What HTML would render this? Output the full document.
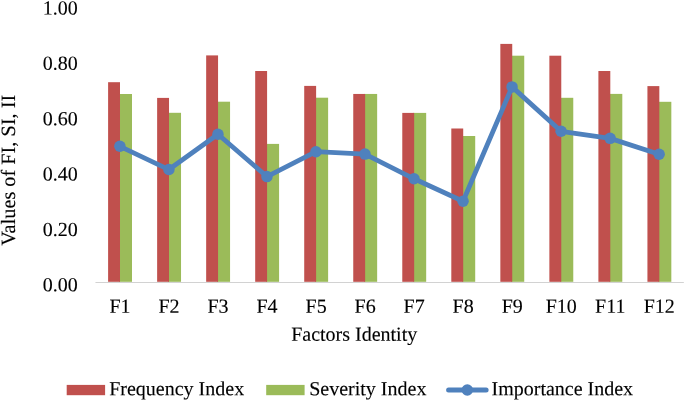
<!DOCTYPE html>
<html><head><meta charset="utf-8"><title>Chart</title>
<style>
html,body{margin:0;padding:0;background:#fff;}
svg{display:block;}
text{text-rendering:geometricPrecision;font-family:"Liberation Serif",serif;font-size:20px;fill:#000;stroke:#000;stroke-width:0.12px;}
</style></head>
<body>
<svg width="685" height="401" viewBox="0 0 685 401">
<rect x="0" y="0" width="685" height="401" fill="#fff"/>
<rect x="119.00" y="94.00" width="13.00" height="187.80" fill="#9BBB59"/>
<rect x="108.10" y="82.20" width="11.9" height="199.60" fill="#C0504D"/>
<rect x="168.03" y="112.80" width="13.00" height="169.00" fill="#9BBB59"/>
<rect x="157.13" y="97.90" width="11.9" height="183.90" fill="#C0504D"/>
<rect x="217.06" y="101.70" width="13.00" height="180.10" fill="#9BBB59"/>
<rect x="206.16" y="55.40" width="11.9" height="226.40" fill="#C0504D"/>
<rect x="266.09" y="143.90" width="13.00" height="137.90" fill="#9BBB59"/>
<rect x="255.19" y="71.00" width="11.9" height="210.80" fill="#C0504D"/>
<rect x="315.12" y="97.70" width="13.00" height="184.10" fill="#9BBB59"/>
<rect x="304.22" y="85.90" width="11.9" height="195.90" fill="#C0504D"/>
<rect x="364.15" y="93.95" width="13.00" height="187.85" fill="#9BBB59"/>
<rect x="353.25" y="93.95" width="11.9" height="187.85" fill="#C0504D"/>
<rect x="413.18" y="112.90" width="13.00" height="168.90" fill="#9BBB59"/>
<rect x="402.28" y="112.90" width="11.9" height="168.90" fill="#C0504D"/>
<rect x="462.21" y="136.00" width="13.00" height="145.80" fill="#9BBB59"/>
<rect x="451.31" y="128.50" width="11.9" height="153.30" fill="#C0504D"/>
<rect x="511.24" y="55.70" width="13.00" height="226.10" fill="#9BBB59"/>
<rect x="500.34" y="43.90" width="11.9" height="237.90" fill="#C0504D"/>
<rect x="560.27" y="97.80" width="13.00" height="184.00" fill="#9BBB59"/>
<rect x="549.37" y="55.70" width="11.9" height="226.10" fill="#C0504D"/>
<rect x="609.30" y="93.90" width="13.00" height="187.90" fill="#9BBB59"/>
<rect x="598.40" y="71.00" width="11.9" height="210.80" fill="#C0504D"/>
<rect x="658.33" y="101.80" width="13.00" height="180.00" fill="#9BBB59"/>
<rect x="647.43" y="86.10" width="11.9" height="195.70" fill="#C0504D"/>
<line x1="95.45" y1="282.45" x2="683.85" y2="282.45" stroke="#D2D2D2" stroke-width="1.1"/>
<polyline fill="none" stroke="#4F81BD" stroke-width="4.8" stroke-linejoin="round" stroke-linecap="round" points="119.90,146.30 168.92,169.55 217.94,134.20 266.96,176.60 315.98,151.70 365.00,154.10 414.02,178.80 463.04,201.20 512.06,86.90 561.08,131.30 610.10,138.35 659.12,154.30"/>
<circle cx="119.90" cy="146.30" r="5.75" fill="#4F81BD"/>
<circle cx="168.92" cy="169.55" r="5.75" fill="#4F81BD"/>
<circle cx="217.94" cy="134.20" r="5.75" fill="#4F81BD"/>
<circle cx="266.96" cy="176.60" r="5.75" fill="#4F81BD"/>
<circle cx="315.98" cy="151.70" r="5.75" fill="#4F81BD"/>
<circle cx="365.00" cy="154.10" r="5.75" fill="#4F81BD"/>
<circle cx="414.02" cy="178.80" r="5.75" fill="#4F81BD"/>
<circle cx="463.04" cy="201.20" r="5.75" fill="#4F81BD"/>
<circle cx="512.06" cy="86.90" r="5.75" fill="#4F81BD"/>
<circle cx="561.08" cy="131.30" r="5.75" fill="#4F81BD"/>
<circle cx="610.10" cy="138.35" r="5.75" fill="#4F81BD"/>
<circle cx="659.12" cy="154.30" r="5.75" fill="#4F81BD"/>
<text x="77.7" y="14.45" text-anchor="end" transform="rotate(0.03 77.7 14.45)">1.00</text>
<text x="77.7" y="69.83" text-anchor="end" transform="rotate(0.03 77.7 69.83)">0.80</text>
<text x="77.7" y="125.21" text-anchor="end" transform="rotate(0.03 77.7 125.21)">0.60</text>
<text x="77.7" y="180.59" text-anchor="end" transform="rotate(0.03 77.7 180.59)">0.40</text>
<text x="77.7" y="235.97" text-anchor="end" transform="rotate(0.03 77.7 235.97)">0.20</text>
<text x="77.7" y="291.35" text-anchor="end" transform="rotate(0.03 77.7 291.35)">0.00</text>
<text x="119.97" y="312.75" text-anchor="middle" transform="rotate(0.03 119.97 312.75)">F1</text>
<text x="169.00" y="312.75" text-anchor="middle" transform="rotate(0.03 169.00 312.75)">F2</text>
<text x="218.03" y="312.75" text-anchor="middle" transform="rotate(0.03 218.03 312.75)">F3</text>
<text x="267.06" y="312.75" text-anchor="middle" transform="rotate(0.03 267.06 312.75)">F4</text>
<text x="316.08" y="312.75" text-anchor="middle" transform="rotate(0.03 316.08 312.75)">F5</text>
<text x="365.12" y="312.75" text-anchor="middle" transform="rotate(0.03 365.12 312.75)">F6</text>
<text x="414.14" y="312.75" text-anchor="middle" transform="rotate(0.03 414.14 312.75)">F7</text>
<text x="463.18" y="312.75" text-anchor="middle" transform="rotate(0.03 463.18 312.75)">F8</text>
<text x="512.21" y="312.75" text-anchor="middle" transform="rotate(0.03 512.21 312.75)">F9</text>
<text x="561.24" y="312.75" text-anchor="middle" transform="rotate(0.03 561.24 312.75)">F10</text>
<text x="610.27" y="312.75" text-anchor="middle" transform="rotate(0.03 610.27 312.75)">F11</text>
<text x="659.30" y="312.75" text-anchor="middle" transform="rotate(0.03 659.30 312.75)">F12</text>
<text x="354.2" y="340.75" text-anchor="middle" transform="rotate(0.03 354.2 340.75)">Factors Identity</text>
<text transform="translate(15.4,170.3) rotate(-90)" text-anchor="middle" style="font-size:20.3px">Values of FI, SI, II</text>
<rect x="66.7" y="384.9" width="38.4" height="10.3" fill="#C0504D"/>
<text x="109.2" y="395.2" transform="rotate(0.03 109.2 395.2)">Frequency Index</text>
<rect x="266.2" y="384.9" width="38.4" height="10.3" fill="#9BBB59"/>
<text x="309.2" y="395.2" transform="rotate(0.03 309.2 395.2)">Severity Index</text>
<line x1="448.6" y1="390" x2="486.1" y2="390" stroke="#4F81BD" stroke-width="5" stroke-linecap="round"/>
<circle cx="467.3" cy="390" r="5.75" fill="#4F81BD"/>
<text x="491.5" y="395.2" transform="rotate(0.03 491.5 395.2)">Importance Index</text>
</svg>
</body></html>
